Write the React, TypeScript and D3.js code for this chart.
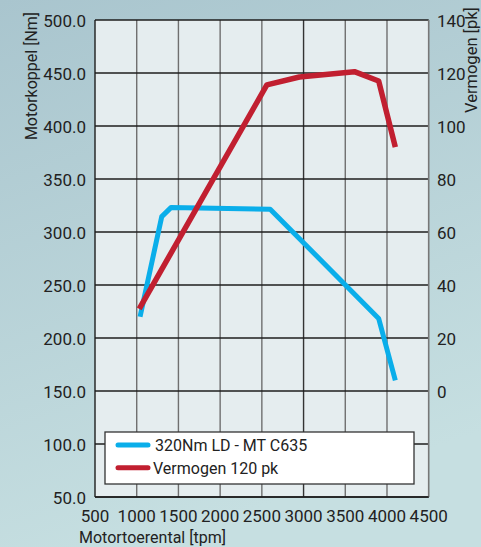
import React from "react";
import * as d3 from "d3";

const rpmTorque = [1040, 1300, 1410, 2600, 3900, 4100];
const torqueNm = [220, 314.5, 323, 321.5, 218.5, 160];
const rpmPower = [1030, 2560, 2950, 3610, 3900, 4100];
const powerPk = [31, 115.5, 118.5, 120.5, 117, 92];
const xTicks = [500, 1000, 1500, 2000, 2500, 3000, 3500, 4000, 4500];
const yTicks = [50, 100, 150, 200, 250, 300, 350, 400, 450, 500];
const y2Ticks = [0, 20, 40, 60, 80, 100, 120, 140];
const legendLabels = ["320Nm LD - MT C635", "Vermogen 120 pk"];
const seriesColors = ["#0aaeea", "#c11f30"];

const W = 481;
const H = 547;
const L = 95, R = 428.7, T = 20, B = 497;
const FONT = "'Liberation Sans Narrow', 'Arial Narrow', Roboto, sans-serif";

export default function App() {
  const x = d3.scaleLinear().domain([500, 4500]).range([L, R]);
  const y = d3.scaleLinear().domain([50, 500]).range([B, T]);
  const y2 = d3.scaleLinear().domain([0, 140]).range([y(150), y(500)]);

  const torqueLine = d3.line<number>()
    .x((_, i) => x(rpmTorque[i]))
    .y((d) => y(d))(torqueNm) || "";
  const powerLine = d3.line<number>()
    .x((_, i) => x(rpmPower[i]))
    .y((d) => y2(d))(powerPk) || "";

  const lgX = 105, lgY = 432, lgW = 309, lgH = 52;

  return (
    <svg width={W} height={H} style={{ position: "absolute", left: 0, top: 0 }} fontFamily={FONT}>
      <defs>
        <linearGradient id="bg" x1="0" y1="0" x2="0.3" y2="1">
          <stop offset="0" stopColor="#a9c5ce" />
          <stop offset="1" stopColor="#c6dfe1" />
        </linearGradient>
      </defs>
      <rect x={0} y={0} width={W} height={H} fill="url(#bg)" />
      <rect x={L} y={T} width={R - L} height={B - T} fill="#e5edef" />
      {/* vertical grid */}
      {xTicks.slice(1, -1).map((t) => (
        <line key={"v" + t} x1={x(t)} x2={x(t)} y1={T} y2={B} stroke={t === 3000 ? "#333" : "#6f6f6f"} strokeWidth={1.4} />
      ))}
      {/* horizontal grid */}
      {yTicks.map((t) => (
        <line key={"h" + t} x1={L} x2={R} y1={y(t)} y2={y(t)} stroke="#1e1e1e" strokeWidth={1.3} />
      ))}
      <line x1={L} x2={L} y1={T} y2={B} stroke="#1e1e1e" strokeWidth={1.4} />
      <line x1={R} x2={R} y1={T} y2={B} stroke="#777" strokeWidth={1.6} />
      {/* series */}
      <path d={torqueLine} fill="none" stroke={seriesColors[0]} strokeWidth={5} strokeLinejoin="round" />
      <path d={powerLine} fill="none" stroke={seriesColors[1]} strokeWidth={5.5} strokeLinejoin="round" />
      {/* left tick labels */}
      {yTicks.map((t) => (
        <text key={"yl" + t} x={86} y={y(t) + 7} textAnchor="end" fontSize={17} fill="#222">
          {t.toFixed(1)}
        </text>
      ))}
      {/* right tick labels */}
      {y2Ticks.map((t) => (
        <text key={"y2l" + t} x={437} y={y2(t) + 7} textAnchor="start" fontSize={17} fill="#222">
          {t}
        </text>
      ))}
      {/* x tick labels */}
      {xTicks.map((t) => (
        <text key={"xl" + t} x={x(t)} y={522} textAnchor="middle" fontSize={17} fill="#222">
          {t}
        </text>
      ))}
      {/* axis titles */}
      <text transform="translate(37,76) rotate(-90)" textAnchor="middle" fontSize={16} fill="#222">
        Motorkoppel [Nm]
      </text>
      <text transform="translate(477,113) rotate(-90)" textAnchor="start" fontSize={16.5} fill="#222">
        Vermogen [pk]
      </text>
      <text x={79} y={543} fontSize={16} fill="#222">Motortoerental [tpm]</text>
      {/* legend */}
      <rect x={lgX} y={lgY} width={lgW} height={lgH} fill="#ffffff" stroke="#333" strokeWidth={1.3} />
      {legendLabels.map((lab, i) => (
        <g key={lab}>
          <line x1={118} x2={148} y1={445 + i * 22.7} y2={445 + i * 22.7} stroke={seriesColors[i]} strokeWidth={5} strokeLinecap="round" />
          <text x={i === 0 ? 155 : 153} y={445 + i * 22.7 + 6} fontSize={16} fill="#222">{lab}</text>
        </g>
      ))}
      {/* bottom border */}
      <line x1={L} x2={R} y1={B} y2={B} stroke="#1e1e1e" strokeWidth={1.4} />
    </svg>
  );
}
